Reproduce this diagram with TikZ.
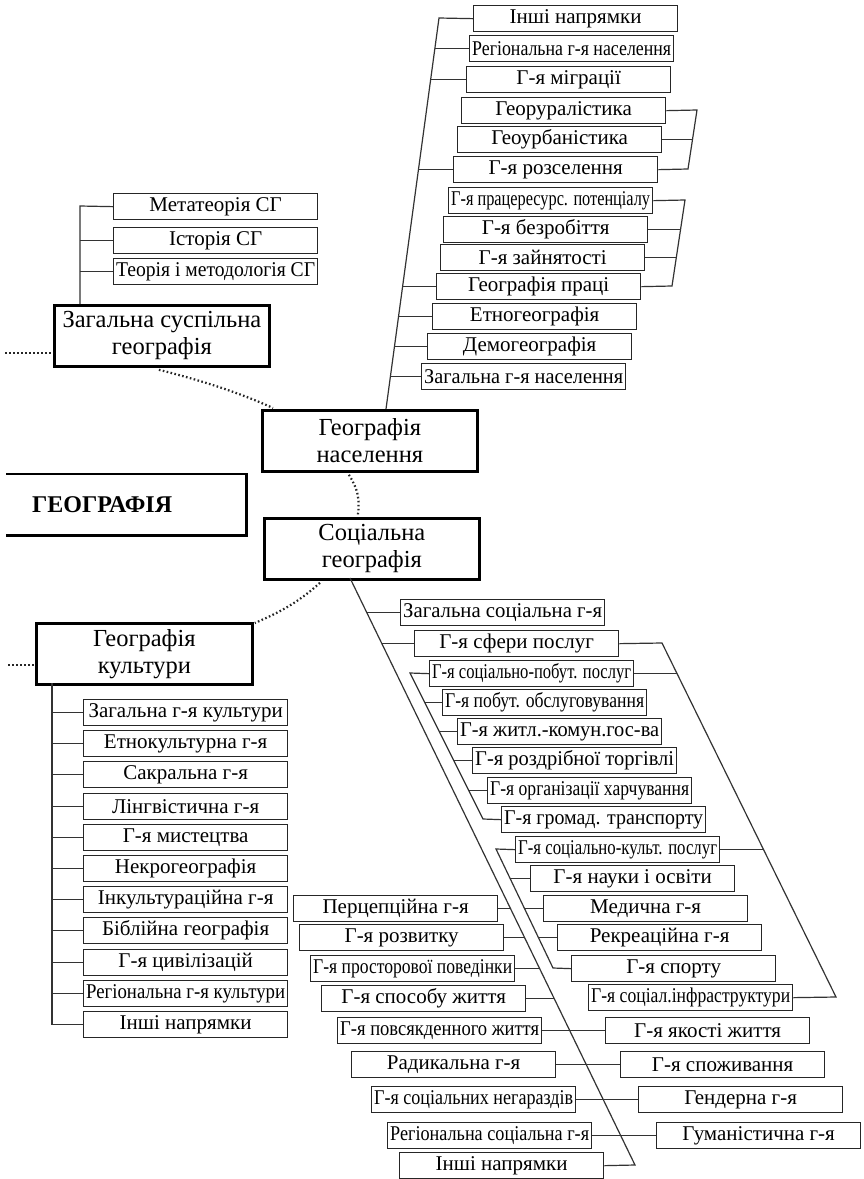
\documentclass[tikz,border=0pt]{standalone}
\usepackage{fontspec}
\setmainfont{Liberation Serif}
\usetikzlibrary{calc,intersections}
\newsavebox\fitsbox
\newcommand\fitw[2]{\sbox\fitsbox{#2}\ifdim\wd\fitsbox>#1\relax\resizebox{#1}{\height}{\usebox\fitsbox}\else\usebox\fitsbox\fi}
\newcommand\sbx[4]{\node[sb] (#1) at (#2,#3) {\fitw{199pt}{#4}};}
\begin{document}
\begin{tikzpicture}[x=1pt,y=-1pt,
  sb/.style={draw=black!85, line width=1.3pt, fill=white, inner sep=0pt, minimum height=26pt, minimum width=204pt, anchor=north west, font=\fontsize{21}{23}\selectfont},
  mb/.style={draw=black, line width=2.8pt, fill=white, inner sep=0pt, minimum width=215pt, minimum height=61pt, anchor=north west, align=center, font=\fontsize{24.5}{27}\selectfont},
  ln/.style={draw=black!80, line width=1.2pt},
  dt/.style={draw=black!85, line width=2.2pt, dash pattern=on 1.6pt off 2.4pt},
]
\useasboundingbox (0,0) rectangle (863,1179);
\fill[white] (0,0) rectangle (863,1179);

% ---------- population geography ----------
\sbx{p1}{473}{5}{Інші напрямки}
\sbx{p2}{469}{35}{Регіональна г-я населення}
\sbx{p3}{466}{66}{Г-я міграції}
\sbx{p4}{461}{97}{Георуралістика}
\sbx{p5}{457}{126}{Геоурбаністика}
\sbx{p6}{453}{156}{Г-я розселення}
\sbx{p7}{448}{187}{Г-я працересурс. потенціалу}
\sbx{p8}{443}{216}{Г-я безробіття}
\sbx{p9}{440}{244}{Г-я зайнятості}
\sbx{p10}{436}{273}{Географія праці}
\sbx{p11}{432}{303}{Етногеографія}
\sbx{p12}{427}{333}{Демогеографія}
\sbx{p13}{421}{363}{Загальна г-я населення}

% ---------- general social geography ----------
\sbx{z1}{113}{193}{Метатеорія СГ}
\sbx{z2}{113}{227}{Історія СГ}
\sbx{z3}{113}{258}{Теорія і методологія СГ}

% ---------- main boxes ----------
\node[mb] (zsg) at (53,304) {Загальна суспільна\\географія};
\node[mb] (gn) at (261,409) {Географія\\населення};
\node[mb] (sg) at (263,517) {Соціальна\\географія};
\node[mb, minimum width=216pt] (gk) at (35,622) {Географія\\культури};
\node[anchor=north west, minimum width=240pt, minimum height=61pt, inner sep=0pt, text width=240pt, align=left, font=\fontsize{24}{26}\selectfont\bfseries] (geo) at (6,474) {\hspace*{26pt}ГЕОГРАФІЯ};
\draw[line width=2.6pt] (geo.north west) -- (geo.north east) -- (geo.south east) -- (geo.south west);

% ---------- culture geography ----------
\sbx{k1}{83}{699}{Загальна г-я культури}
\sbx{k2}{83}{730}{Етнокультурна г-я}
\sbx{k3}{83}{761}{Сакральна г-я}
\sbx{k4}{83}{793}{Лінгвістична г-я}
\sbx{k5}{83}{824}{Г-я мистецтва}
\sbx{k6}{83}{855}{Некрогеографія}
\sbx{k7}{83}{886}{Інкультураційна г-я}
\sbx{k8}{83}{917}{Біблійна географія}
\sbx{k9}{83}{949}{Г-я цивілізацій}
\sbx{k10}{83}{980}{Регіональна г-я культури}
\sbx{k11}{83}{1011}{Інші напрямки}

% ---------- social geography ----------
\sbx{s1}{400}{599}{Загальна соціальна г-я}
\sbx{s2}{414}{630}{Г-я сфери послуг}
\sbx{s3}{429}{660}{Г-я соціально-побут. послуг}
\sbx{s4}{442}{689}{Г-я побут. обслуговування}
\sbx{s5}{457}{718}{Г-я житл.-комун.гос-ва}
\sbx{s6}{472}{747}{Г-я роздрібної торгівлі}
\sbx{s7}{487}{777}{Г-я організації харчування}
\sbx{s8}{501}{806}{Г-я громад. транспорту}
\sbx{s9}{515}{836}{Г-я соціально-культ. послуг}
\sbx{s10}{530}{865}{Г-я науки і освіти}
\sbx{s11}{543}{895}{Медична г-я}
\sbx{s12}{557}{924}{Рекреаційна г-я}
\sbx{s13}{571}{955}{Г-я спорту}
\sbx{s14}{588}{984}{Г-я соціал.інфраструктури}

\sbx{L1}{293}{895}{Перцепційна г-я}
\sbx{L2}{299}{924}{Г-я розвитку}
\sbx{L3}{310}{955}{Г-я просторової поведінки}
\sbx{L4}{321}{985}{Г-я способу життя}
\sbx{L5}{337}{1017}{Г-я повсякденного життя}
\sbx{L6}{351}{1051}{Радикальна г-я}
\sbx{L7}{371}{1086}{Г-я соціальних негараздів}
\sbx{L8}{387}{1122}{Регіональна соціальна г-я}
\sbx{L9}{399}{1152}{Інші напрямки}
\sbx{R1}{605}{1017}{Г-я якості життя}
\sbx{R2}{620}{1051}{Г-я споживання}
\sbx{R3}{638}{1086}{Гендерна г-я}
\sbx{R4}{656}{1122}{Гуманістична г-я}

% ---------- spine coordinates ----------
\coordinate (pT) at (439,18);  \coordinate (pB) at (386,409);
\coordinate (bT) at (697,110); \coordinate (bB) at (688,169);
\coordinate (qT) at (685,200); \coordinate (qB) at (672,286);
\coordinate (zT) at (80,206);
\coordinate (kT) at (52,683);
\coordinate (sT) at (350,578); \coordinate (sB) at (635,1165);
\coordinate (dT) at (410,673); \coordinate (dB) at (483,819);
\coordinate (cT) at (496,849); \coordinate (cB) at (553,968);
\coordinate (rT) at (662,643); \coordinate (rB) at (836,997);

% population spine
\draw[ln, name path=pspine] (p1.west) -- (pT) -- (pB);
\foreach \n in {p2,p3,p6,p10,p11,p12,p13}{
  \path[name path=hh] (\n.west) -- ++(-80,0);
  \draw[ln, name intersections={of=hh and pspine}] (\n.west) -- (intersection-1);
}
\draw[ln, name path=bsp] (p4.east) -- (bT) -- (bB) -- (p6.east);
\path[name path=hh] (p5.east) -- ++(80,0);
\draw[ln, name intersections={of=hh and bsp}] (p5.east) -- (intersection-1);
\draw[ln, name path=qsp] (p7.east) -- (qT) -- (qB) -- (p10.east);
\foreach \n in {p8,p9}{
  \path[name path=hh] (\n.east) -- ++(80,0);
  \draw[ln, name intersections={of=hh and qsp}] (\n.east) -- (intersection-1);
}

% general social geography spine
\draw[ln] (z1.west) -- (zT) -- (zT |- zsg.north);
\foreach \n in {z2,z3}{\draw[ln] (\n.west) -- (\n.west -| zT);}

% culture spine
\draw[ln] (kT) -- (kT |- k11.west) -- (k11.west);
\foreach \n in {k1,k2,k3,k4,k5,k6,k7,k8,k9,k10}{\draw[ln] (\n.west) -- (\n.west -| kT);}

% social main spine
\draw[ln, name path=ssp] (sT) -- (sB) -- (L9.east);
\foreach \n in {s1,s2}{
  \path[name path=hh] (\n.west) -- ++(-80,0);
  \draw[ln, name intersections={of=hh and ssp}] (\n.west) -- (intersection-1);
}
\foreach \n in {L1,L2,L3,L4}{
  \path[name path=hh] (\n.east) -- ++(80,0);
  \draw[ln, name intersections={of=hh and ssp}] (\n.east) -- (intersection-1);
}
\draw[ln] (L5.east) -- (R1.west);
\draw[ln] (L6.east) -- (R2.west);
\draw[ln] (L7.east) -- (R3.west);
\draw[ln] (L8.east) -- (R4.west);

% social-domestic services
\draw[ln, name path=dsp] (s3.west) -- (dT) -- (dB) -- (s8.west);
\foreach \n in {s4,s5,s6,s7}{
  \path[name path=hh] (\n.west) -- ++(-80,0);
  \draw[ln, name intersections={of=hh and dsp}] (\n.west) -- (intersection-1);
}
% socio-cultural services
\draw[ln, name path=csp] (s9.west) -- (cT) -- (cB) -- (s13.west);
\foreach \n in {s10,s11,s12}{
  \path[name path=hh] (\n.west) -- ++(-80,0);
  \draw[ln, name intersections={of=hh and csp}] (\n.west) -- (intersection-1);
}
% right bracket
\draw[ln, name path=rsp] (s2.east) -- (rT) -- (rB) -- (s14.east);
\foreach \n in {s3,s9}{
  \path[name path=hh] (\n.east) -- ++(200,0);
  \draw[ln, name intersections={of=hh and rsp}] (\n.east) -- (intersection-1);
}

% dotted links
\coordinate (zl) at (5,353);
\coordinate (kl) at (8,665);
\draw[dt] (zl) -- (zl -| zsg.west);
\draw[dt] (kl) -- (kl -| gk.west);
\draw[dt] ($(zsg.south)+(-3,2)$) .. controls +(40,10) and +(-35,-16) .. ($(gn.north west)+(12,-1)$);
\draw[dt] ($(gn.south)+(-21,2)$) .. controls +(9,14) and +(2,-16) .. ($(sg.north)+(-14,-2)$);
\draw[dt] ($(sg.south west)+(57,2)$) .. controls +(-20,18) and +(28,-12) .. ($(gk.north east)+(1,1)$);
\end{tikzpicture}
\end{document}
